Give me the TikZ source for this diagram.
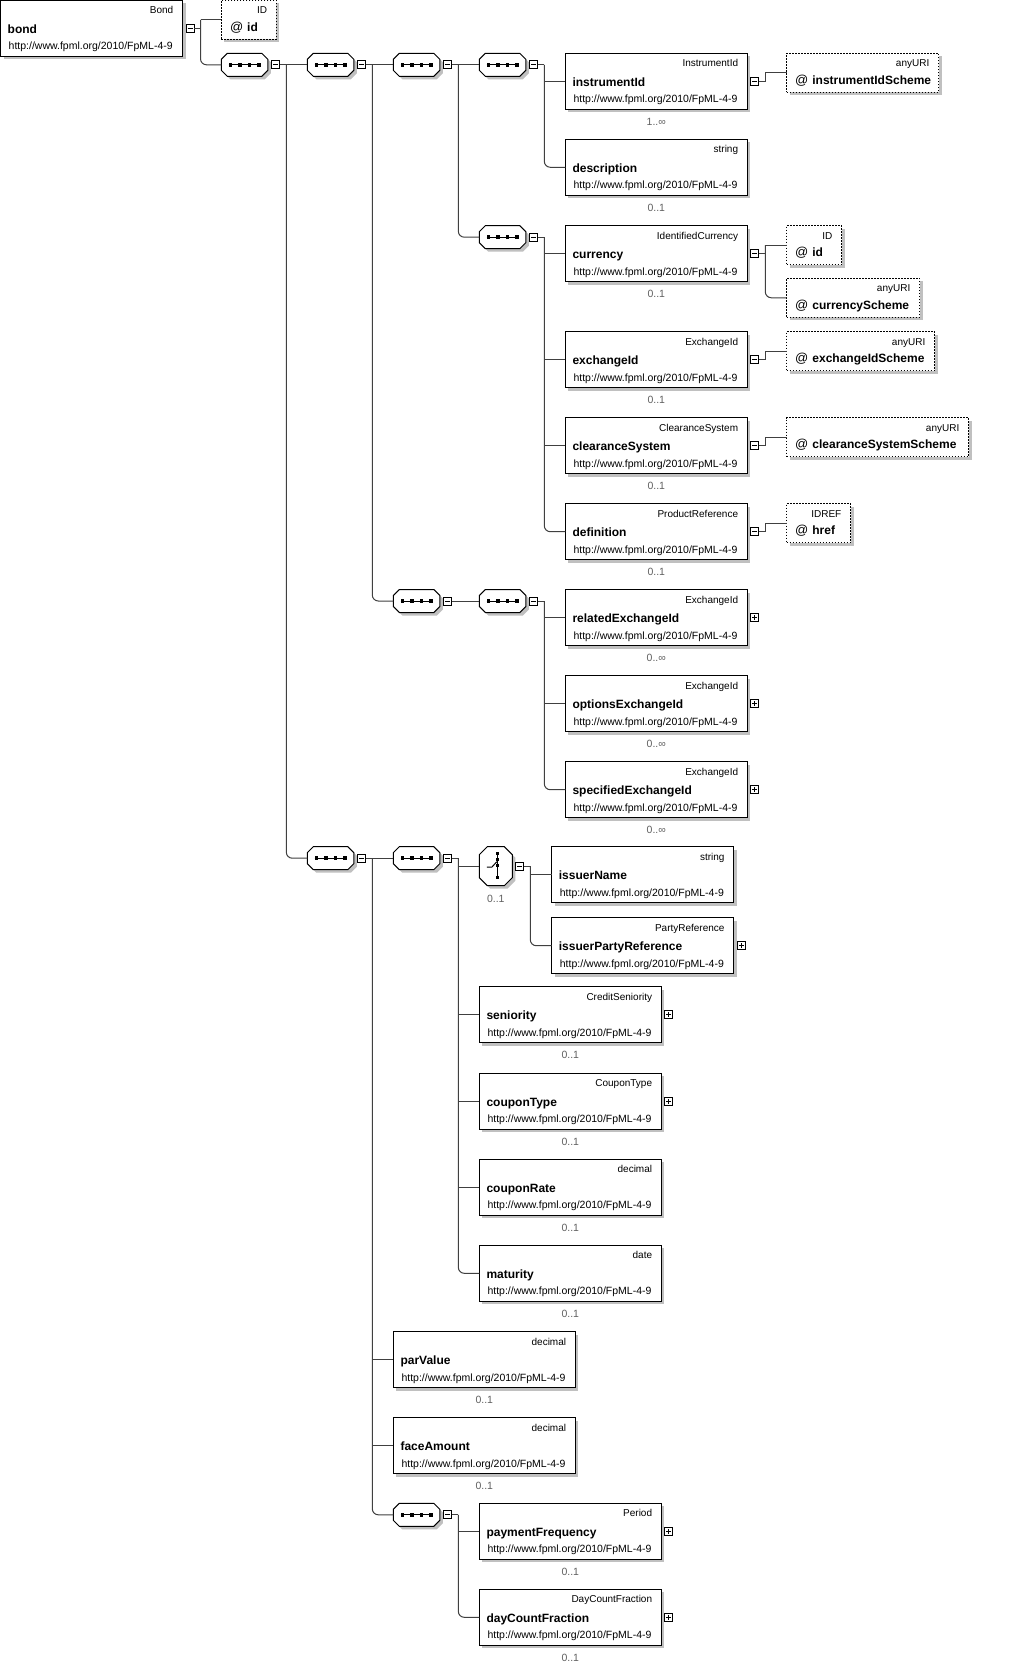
\documentclass[tikz,border=0pt]{standalone}
\usepackage{fontspec}
\setmainfont{Liberation Sans}
\definecolor{shgray}{HTML}{C0C0C0}
\definecolor{lineg}{HTML}{404040}
\definecolor{occg}{HTML}{606060}
\tikzset{
  conn/.style={draw=lineg, line width=1pt},
  elembox/.style={draw=black, fill=white, line width=1pt, minimum width=182pt, minimum height=56pt, inner sep=0pt, outer sep=0pt, anchor=north west},
  attrbox/.style={draw=black, fill=white, line width=1pt, dash pattern=on 1.5pt off 1.5pt, minimum height=39pt, inner sep=0pt, outer sep=0pt, anchor=north west},
  compbox/.style={minimum width=46.5pt, minimum height=23pt, inner sep=0pt, outer sep=0pt, anchor=north west},
  typetxt/.style={font=\fontsize{10}{12}\selectfont, inner sep=0pt},
  nametxt/.style={font=\fontsize{12}{14}\selectfont\bfseries, inner sep=0pt},
  urltxt/.style={font=\fontsize{10.5}{12}\selectfont, inner sep=0pt},
  occtxt/.style={font=\fontsize{10.5}{12}\selectfont, text=occg, inner sep=0pt},
  signbox/.style={draw=black, fill=white, line width=0.9pt, minimum size=8pt, inner sep=0pt, outer sep=0pt},
}
\newcommand\xOctPath[5]{({#1+#5},{#2}) -- ({#1+#3-#5},{#2}) -- ({#1+#3},{#2+#5}) -- ({#1+#3},{#2+#4-#5}) -- ({#1+#3-#5},{#2+#4}) -- ({#1+#5},{#2+#4}) -- ({#1},{#2+#4-#5}) -- ({#1},{#2+#5}) -- cycle}
\newcommand\xElem[5]{%
  \fill[shgray] ({#2+3},{#3+3}) rectangle ++(182,56);
  \node[elembox] (#1) at (#2,#3) {};
  \node[typetxt,anchor=base east] (#1-t) at ([xshift=-9pt,yshift=-13.5pt]#1.north east) {#4};
  \node[nametxt,anchor=base west] (#1-n) at ([xshift=7pt,yshift=-33pt]#1.north west) {#5};
  \node[urltxt,anchor=base west] (#1-u) at ([xshift=8pt,yshift=-49.5pt]#1.north west) {http://www.fpml.org/2010/FpML-4-9};
}
\newcommand\xOcc[2]{\node[occtxt,anchor=base] (#1-o) at ([yshift=-72pt]#1.north) {#2};}
\newcommand\xMinus[3]{%
  \node[signbox] (#1) at ([xshift=#3pt]#2.east) {};
  \draw[line width=0.9pt] ([xshift=-2.5pt]#1.center) -- ([xshift=2.5pt]#1.center);}
\newcommand\xPlus[3]{%
  \node[signbox] (#1) at ([xshift=#3pt]#2.east) {};
  \draw[line width=0.9pt] ([xshift=-2.5pt]#1.center) -- ([xshift=2.5pt]#1.center) ([yshift=-2.5pt]#1.center) -- ([yshift=2.5pt]#1.center);}
\newcommand\xAttr[6]{%
  \fill[shgray] ({#2+3},{#3+3}) rectangle ++(#4,39);
  \node[attrbox,minimum width=#4pt] (#1) at (#2,#3) {};
  \node[typetxt,anchor=base east] (#1-t) at ([xshift=-9pt,yshift=-13.5pt]#1.north east) {#5};
  \node[nametxt,anchor=base west] (#1-n) at ([xshift=8.5pt,yshift=-31pt]#1.north west) {{\mdseries\fontsize{13}{14}\selectfont @}\hspace{4pt}#6};
}
\newcommand\xSeq[3]{%
  \begin{scope}[shift={(3,3)}]\fill[shgray] \xOctPath{#2}{#3}{46.5}{23}{6};\end{scope}
  \draw[fill=white,line width=1pt] \xOctPath{#2}{#3}{46.5}{23}{6};
  \node[compbox] (#1) at (#2,#3) {};
  \draw[line width=1pt] ([xshift=-16pt]#1.center) -- ([xshift=16pt]#1.center);
  \foreach \dx in {-14.25,-4.75,4.75,14.25}{\fill ([xshift=\dx pt]#1.center) +(-1.75pt,-1.75pt) rectangle +(1.75pt,1.75pt);}
}
\newcommand\xChoice[3]{%
  \begin{scope}[shift={(3,3)}]\fill[shgray] \xOctPath{#2}{#3}{33}{39}{8};\end{scope}
  \draw[fill=white,line width=1pt] \xOctPath{#2}{#3}{33}{39}{8};
  \node[inner sep=0pt,outer sep=0pt,minimum width=33pt,minimum height=39pt,anchor=north west] (#1) at (#2,#3) {};
  \draw[line width=1pt] ([xshift=1.5pt,yshift=12.5pt]#1.center) -- ([xshift=1.5pt,yshift=-11.5pt]#1.center);
  \foreach \dy in {12.5,6.5,0.5,-11.5}{\fill ([xshift=1.5pt,yshift=\dy pt]#1.center) +(-1.75pt,-1.75pt) rectangle +(1.75pt,1.75pt);}
  \draw[line width=1pt] ([xshift=-9pt,yshift=-1pt]#1.center) -- ([xshift=-4pt,yshift=-1pt]#1.center) -- ([xshift=1pt,yshift=4.5pt]#1.center);
}
\newcommand\xBranch[3]{%
  \draw[conn] (#1.east) -- ++(6.5,0) coordinate (#1-k);
  \foreach \c in {#2}{\draw[conn] (#1-k |- \c.west) -- (\c.west);}
  \draw[conn,rounded corners=6pt] (#1-k) -- (#1-k |- #3.west) -- (#3.west);
}
\newcommand\xUp[2]{%
  \draw[conn] (#1.east) -- ++(6.5,0) coordinate (#1-k) -- (#1-k |- #2.west) -- (#2.west);
}
\begin{document}
\begin{tikzpicture}[x=1pt,y=-1pt]
\useasboundingbox (0,0) rectangle (1009,1667);
\fill[white] (0,0) rectangle (1009,1667);

% root
\xElem{bond}{0.5}{0.5}{Bond}{bond}
\xMinus{bond-m}{bond}{7.5}
\xAttr{bondid}{221.3}{0.5}{55}{ID}{id}

% sequences top row
\xSeq{S1}{221.3}{53.3} \xMinus{S1-m}{S1}{8}
\xSeq{S2}{307.3}{53.3} \xMinus{S2-m}{S2}{8}
\xSeq{S3}{393.3}{53.3} \xMinus{S3-m}{S3}{8}
\xSeq{S4}{479.3}{53.3} \xMinus{S4-m}{S4}{8}

\xElem{iid}{565.3}{53.3}{InstrumentId}{instrumentId} \xOcc{iid}{1..∞}
\xMinus{iid-m}{iid}{7.5}
\xAttr{iids}{786.5}{53.3}{152}{anyURI}{instrumentIdScheme}
\xElem{desc}{565.3}{139.3}{string}{description} \xOcc{desc}{0..1}

\xSeq{S5}{479.3}{225.7} \xMinus{S5-m}{S5}{8}
\xElem{cur}{565.3}{225.7}{IdentifiedCurrency}{currency} \xOcc{cur}{0..1}
\xMinus{cur-m}{cur}{7.5}
\xAttr{curid}{786.5}{225.7}{55}{ID}{id}
\xAttr{cursch}{786.5}{278.3}{133}{anyURI}{currencyScheme}
\xElem{exid}{565.3}{331.7}{ExchangeId}{exchangeId} \xOcc{exid}{0..1}
\xMinus{exid-m}{exid}{7.5}
\xAttr{exids}{786.5}{331.7}{148}{anyURI}{exchangeIdScheme}
\xElem{clr}{565.3}{417.7}{ClearanceSystem}{clearanceSystem} \xOcc{clr}{0..1}
\xMinus{clr-m}{clr}{7.5}
\xAttr{clrs}{786.5}{417.7}{182}{anyURI}{clearanceSystemScheme}
\xElem{def}{565.3}{503.7}{ProductReference}{definition} \xOcc{def}{0..1}
\xMinus{def-m}{def}{7.5}
\xAttr{href}{786.5}{503.7}{64}{IDREF}{href}

\xSeq{Sc}{393.3}{589.5} \xMinus{Sc-m}{Sc}{8}
\xSeq{Sd}{479.3}{589.5} \xMinus{Sd-m}{Sd}{8}
\xElem{rel}{565.3}{589.5}{ExchangeId}{relatedExchangeId} \xOcc{rel}{0..∞} \xPlus{rel-p}{rel}{7.5}
\xElem{opt}{565.3}{675.7}{ExchangeId}{optionsExchangeId} \xOcc{opt}{0..∞} \xPlus{opt-p}{opt}{7.5}
\xElem{spec}{565.3}{761.7}{ExchangeId}{specifiedExchangeId} \xOcc{spec}{0..∞} \xPlus{spec-p}{spec}{7.5}

\xSeq{Sb}{307.3}{846.7} \xMinus{Sb-m}{Sb}{8}
\xSeq{Se}{393.3}{846.7} \xMinus{Se-m}{Se}{8}
\xChoice{ch}{479.3}{846.7} \xMinus{ch-m}{ch}{7.5}
\node[occtxt,anchor=base] (ch-o) at ([yshift=-55.5pt]ch.north) {0..1};
\xElem{isn}{551.7}{846.7}{string}{issuerName}
\xElem{ipr}{551.7}{917.7}{PartyReference}{issuerPartyReference} \xPlus{ipr-p}{ipr}{7.5}
\xElem{sen}{479.3}{986.7}{CreditSeniority}{seniority} \xOcc{sen}{0..1} \xPlus{sen-p}{sen}{7.5}
\xElem{ctype}{479.3}{1073.3}{CouponType}{couponType} \xOcc{ctype}{0..1} \xPlus{ctype-p}{ctype}{7.5}
\xElem{crate}{479.3}{1159.3}{decimal}{couponRate} \xOcc{crate}{0..1}
\xElem{mat}{479.3}{1245.3}{date}{maturity} \xOcc{mat}{0..1}
\xElem{par}{393.3}{1331.7}{decimal}{parValue} \xOcc{par}{0..1}
\xElem{face}{393.3}{1417.7}{decimal}{faceAmount} \xOcc{face}{0..1}
\xSeq{Sf}{393.3}{1503.3} \xMinus{Sf-m}{Sf}{8}
\xElem{pay}{479.3}{1503.3}{Period}{paymentFrequency} \xOcc{pay}{0..1} \xPlus{pay-p}{pay}{7.5}
\xElem{dcf}{479.3}{1589.3}{DayCountFraction}{dayCountFraction} \xOcc{dcf}{0..1} \xPlus{dcf-p}{dcf}{7.5}

% connectors
\draw[conn] (bond-m.east) -- ++(6.5,0) coordinate (bond-m-k);
\draw[conn] (bond-m-k |- bondid.west) -- (bondid.west);
\draw[conn,rounded corners=6pt] (bond-m-k |- bondid.west) -- (bond-m-k |- S1.west) -- (S1.west);

\xBranch{S1-m}{S2}{Sb}
\xBranch{S2-m}{S3}{Sc}
\xBranch{S3-m}{S4}{S5}
\xBranch{S4-m}{iid}{desc}
\xBranch{S5-m}{cur,exid,clr}{def}
\draw[conn] (Sc-m.east) -- (Sd.west);
\xBranch{Sd-m}{rel,opt}{spec}
\xBranch{Sb-m}{Se,par,face}{Sf}
\xBranch{Se-m}{ch,sen,ctype,crate}{mat}
\xBranch{ch-m}{isn}{ipr}
\xBranch{Sf-m}{pay}{dcf}

\xUp{iid-m}{iids}
\draw[conn] (cur-m.east) -- ++(6.5,0) coordinate (cur-m-k);
\draw[conn] (cur-m-k |- curid.west) -- (curid.west);
\draw[conn,rounded corners=6pt] (cur-m-k |- curid.west) -- (cur-m-k |- cursch.west) -- (cursch.west);
\xUp{exid-m}{exids}
\xUp{clr-m}{clrs}
\xUp{def-m}{href}
\end{tikzpicture}
\end{document}
